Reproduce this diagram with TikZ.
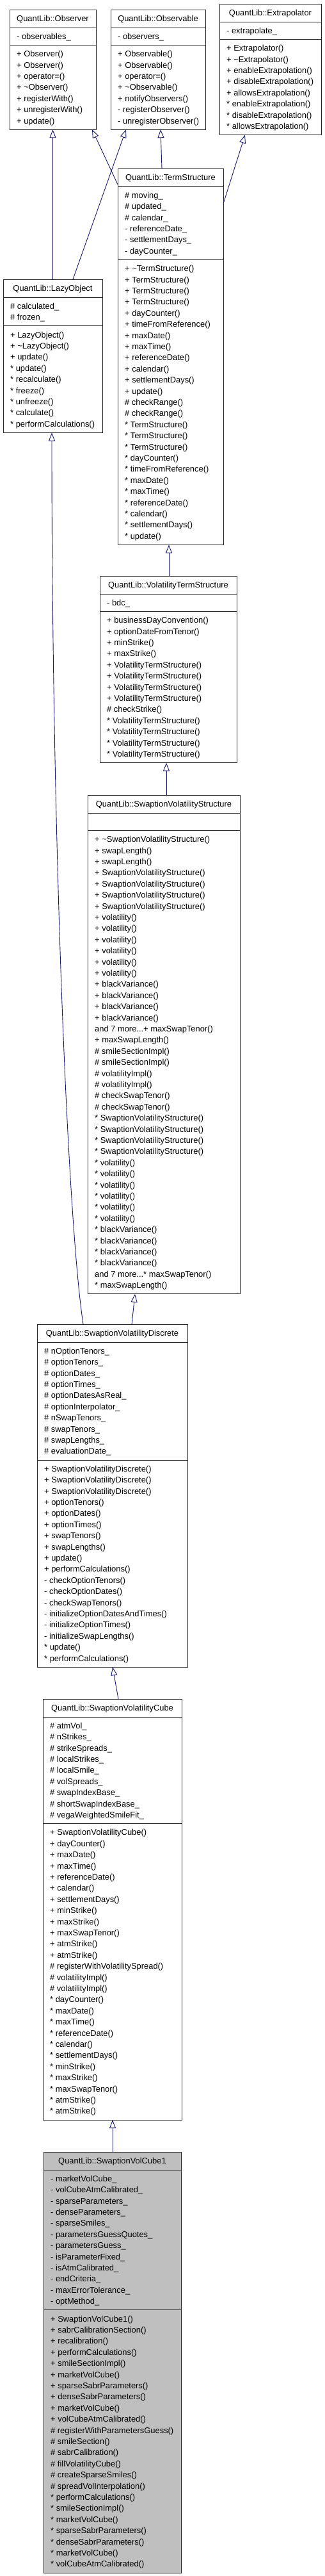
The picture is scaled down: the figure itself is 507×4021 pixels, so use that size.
\documentclass[tikz,border=0pt]{standalone}
\usepackage{fontspec}
\setmainfont{Liberation Sans}
\usetikzlibrary{arrows.meta}
\definecolor{edgeblue}{RGB}{25,25,112}
\definecolor{cubegray}{RGB}{191,191,191}
\newcommand{\tild}{\textasciitilde}
\def\cfill{white}
\tikzset{
  classbox/.style={draw=black!85, line width=0.9pt, inner sep=0pt, outer sep=0pt},
  titletext/.style={inner sep=0pt, font=\fontsize{12.9}{17.4}\selectfont},
  listtext/.style={anchor=north west, inner sep=0pt, align=left, font=\fontsize{12.9}{17.4}\selectfont},
  sepline/.style={draw=black!85, line width=0.9pt},
  inherit/.style={draw=edgeblue, line width=0.9pt, -{Triangle[open, length=13pt, width=10pt, line width=0.9pt]}}
}
\newcommand{\umlclass}[9]{%
  \pgfmathsetmacro{\ha}{17.4*#6+10}%
  \pgfmathsetmacro{\hm}{17.4*#8+10}%
  \pgfmathsetmacro{\htot}{28+\ha+\hm}%
  \pgfmathsetmacro{\sepb}{28+\ha}%
  \pgfmathsetmacro{\mtop}{28+\ha+8}%
  \node[classbox, fill=\cfill, minimum width=#4pt, minimum height=\htot pt, anchor=north west] (#1) at (#2,#3) {};
  \node[titletext, anchor=base] (#1-title) at ([yshift=-18.4pt]#1.north) {#5};
  \draw[sepline] ([yshift=-28pt]#1.north west) -- ([yshift=-28pt]#1.north east);
  \draw[sepline] ([yshift=-\sepb pt]#1.north west) -- ([yshift=-\sepb pt]#1.north east);
  \node[listtext] (#1-attr) at ([xshift=11pt,yshift=-36pt]#1.north west) {\rule{0pt}{10pt}#7};
  \node[listtext] (#1-meth) at ([xshift=11pt,yshift=-\mtop pt]#1.north west) {\rule{0pt}{10pt}#9};
}
\begin{document}
\begin{tikzpicture}[x=1pt, y=-1pt]
\useasboundingbox[fill=white] (0,0) rectangle (507,4021);

\umlclass{obs}{15}{15}{135}{QuantLib::Observer}{1}{- observables\_}{7}{%
+ Observer()\\+ Observer()\\+ operator=()\\+ \tild Observer()\\+ registerWith()\\+ unregisterWith()\\+ update()}

\umlclass{obsv}{173}{15}{148}{QuantLib::Observable}{1}{- observers\_}{7}{%
+ Observable()\\+ Observable()\\+ operator=()\\+ \tild Observable()\\+ notifyObservers()\\- registerObserver()\\- unregisterObserver()}

\umlclass{extr}{343}{6}{159}{QuantLib::Extrapolator}{1}{- extrapolate\_}{8}{%
+ Extrapolator()\\+ \tild Extrapolator()\\+ enableExtrapolation()\\+ disableExtrapolation()\\+ allowsExtrapolation()\\* enableExtrapolation()\\* disableExtrapolation()\\* allowsExtrapolation()}

\umlclass{ts}{184}{263}{165}{QuantLib::TermStructure}{6}{%
\# moving\_\\\# updated\_\\\# calendar\_\\- referenceDate\_\\- settlementDays\_\\- dayCounter\_}{25}{%
+ \tild TermStructure()\\+ TermStructure()\\+ TermStructure()\\+ TermStructure()\\+ dayCounter()\\+ timeFromReference()\\+ maxDate()\\+ maxTime()\\+ referenceDate()\\+ calendar()\\+ settlementDays()\\+ update()\\\# checkRange()\\\# checkRange()\\* TermStructure()\\* TermStructure()\\* TermStructure()\\* dayCounter()\\* timeFromReference()\\* maxDate()\\* maxTime()\\* referenceDate()\\* calendar()\\* settlementDays()\\* update()}

\umlclass{lazy}{5}{436}{155}{QuantLib::LazyObject}{2}{\# calculated\_\\\# frozen\_}{9}{%
+ LazyObject()\\+ \tild LazyObject()\\+ update()\\* update()\\* recalculate()\\* freeze()\\* unfreeze()\\* calculate()\\* performCalculations()}

\umlclass{vts}{156}{899}{214}{QuantLib::VolatilityTermStructure}{1}{- bdc\_}{13}{%
+ businessDayConvention()\\+ optionDateFromTenor()\\+ minStrike()\\+ maxStrike()\\+ VolatilityTermStructure()\\+ VolatilityTermStructure()\\+ VolatilityTermStructure()\\+ VolatilityTermStructure()\\\# checkStrike()\\* VolatilityTermStructure()\\* VolatilityTermStructure()\\* VolatilityTermStructure()\\* VolatilityTermStructure()}

\umlclass{svs}{137}{1241}{238}{QuantLib::SwaptionVolatilityStructure}{1}{}{41}{%
+ \tild SwaptionVolatilityStructure()\\+ swapLength()\\+ swapLength()\\+ SwaptionVolatilityStructure()\\+ SwaptionVolatilityStructure()\\+ SwaptionVolatilityStructure()\\+ SwaptionVolatilityStructure()\\+ volatility()\\+ volatility()\\+ volatility()\\+ volatility()\\+ volatility()\\+ volatility()\\+ blackVariance()\\+ blackVariance()\\+ blackVariance()\\+ blackVariance()\\and 7 more...+ maxSwapTenor()\\+ maxSwapLength()\\\# smileSectionImpl()\\\# smileSectionImpl()\\\# volatilityImpl()\\\# volatilityImpl()\\\# checkSwapTenor()\\\# checkSwapTenor()\\* SwaptionVolatilityStructure()\\* SwaptionVolatilityStructure()\\* SwaptionVolatilityStructure()\\* SwaptionVolatilityStructure()\\* volatility()\\* volatility()\\* volatility()\\* volatility()\\* volatility()\\* volatility()\\* blackVariance()\\* blackVariance()\\* blackVariance()\\* blackVariance()\\and 7 more...* maxSwapTenor()\\* maxSwapLength()}

\umlclass{svd}{58}{2067}{235}{QuantLib::SwaptionVolatilityDiscrete}{10}{%
\# nOptionTenors\_\\\# optionTenors\_\\\# optionDates\_\\\# optionTimes\_\\\# optionDatesAsReal\_\\\# optionInterpolator\_\\\# nSwapTenors\_\\\# swapTenors\_\\\# swapLengths\_\\\# evaluationDate\_}{18}{%
+ SwaptionVolatilityDiscrete()\\+ SwaptionVolatilityDiscrete()\\+ SwaptionVolatilityDiscrete()\\+ optionTenors()\\+ optionDates()\\+ optionTimes()\\+ swapTenors()\\+ swapLengths()\\+ update()\\+ performCalculations()\\- checkOptionTenors()\\- checkOptionDates()\\- checkSwapTenors()\\- initializeOptionDatesAndTimes()\\- initializeOptionTimes()\\- initializeSwapLengths()\\* update()\\* performCalculations()}

\umlclass{svc}{67}{2652}{217}{QuantLib::SwaptionVolatilityCube}{9}{%
\# atmVol\_\\\# nStrikes\_\\\# strikeSpreads\_\\\# localStrikes\_\\\# localSmile\_\\\# volSpreads\_\\\# swapIndexBase\_\\\# shortSwapIndexBase\_\\\# vegaWeightedSmileFit\_}{26}{%
+ SwaptionVolatilityCube()\\+ dayCounter()\\+ maxDate()\\+ maxTime()\\+ referenceDate()\\+ calendar()\\+ settlementDays()\\+ minStrike()\\+ maxStrike()\\+ maxSwapTenor()\\+ atmStrike()\\+ atmStrike()\\\# registerWithVolatilitySpread()\\\# volatilityImpl()\\\# volatilityImpl()\\* dayCounter()\\* maxDate()\\* maxTime()\\* referenceDate()\\* calendar()\\* settlementDays()\\* minStrike()\\* maxStrike()\\* maxSwapTenor()\\* atmStrike()\\* atmStrike()}

\def\cfill{cubegray}
\umlclass{svc1}{68}{3359}{215}{QuantLib::SwaptionVolCube1}{12}{%
- marketVolCube\_\\- volCubeAtmCalibrated\_\\- sparseParameters\_\\- denseParameters\_\\- sparseSmiles\_\\- parametersGuessQuotes\_\\- parametersGuess\_\\- isParameterFixed\_\\- isAtmCalibrated\_\\- endCriteria\_\\- maxErrorTolerance\_\\- optMethod\_}{23}{%
+ SwaptionVolCube1()\\+ sabrCalibrationSection()\\+ recalibration()\\+ performCalculations()\\+ smileSectionImpl()\\+ marketVolCube()\\+ sparseSabrParameters()\\+ denseSabrParameters()\\+ marketVolCube()\\+ volCubeAtmCalibrated()\\\# registerWithParametersGuess()\\\# smileSection()\\\# sabrCalibration()\\\# fillVolatilityCube()\\\# createSparseSmiles()\\\# spreadVolInterpolation()\\* performCalculations()\\* smileSectionImpl()\\* marketVolCube()\\* sparseSabrParameters()\\* denseSabrParameters()\\* marketVolCube()\\* volCubeAtmCalibrated()}

% inheritance connectors
\draw[inherit] (lazy.north) -- (lazy.north |- obs.south);
\draw[inherit] ([xshift=109pt]lazy.north west) -- ([xshift=24pt]obsv.south west);
\draw[inherit] ([yshift=-25pt]ts.north west) -- ([xshift=-6pt]obs.south east);
\draw[inherit] ([xshift=69pt]ts.north west) -- ([xshift=78pt]obsv.south west);
\draw[inherit] ([yshift=-55pt]ts.north east) -- ([xshift=40pt]extr.south west);
\draw[inherit] ([xshift=108pt]vts.north west) -- ([xshift=80pt]ts.south west);
\draw[inherit] ([xshift=123pt]svs.north west) -- ([xshift=104pt]vts.south west);
\draw[inherit] ([xshift=148pt]svd.north west) -- ([xshift=74pt]svs.south west);
\draw[inherit] ([xshift=72pt]svd.north west) .. controls (105,1900) and (81,1300) .. ([xshift=-1.5pt]lazy.south);
\draw[inherit] ([xshift=118pt]svc.north west) -- ([xshift=118pt]svd.south west);
\draw[inherit] ([xshift=108pt]svc1.north west) -- ([xshift=109pt]svc.south west);
\end{tikzpicture}
\end{document}
